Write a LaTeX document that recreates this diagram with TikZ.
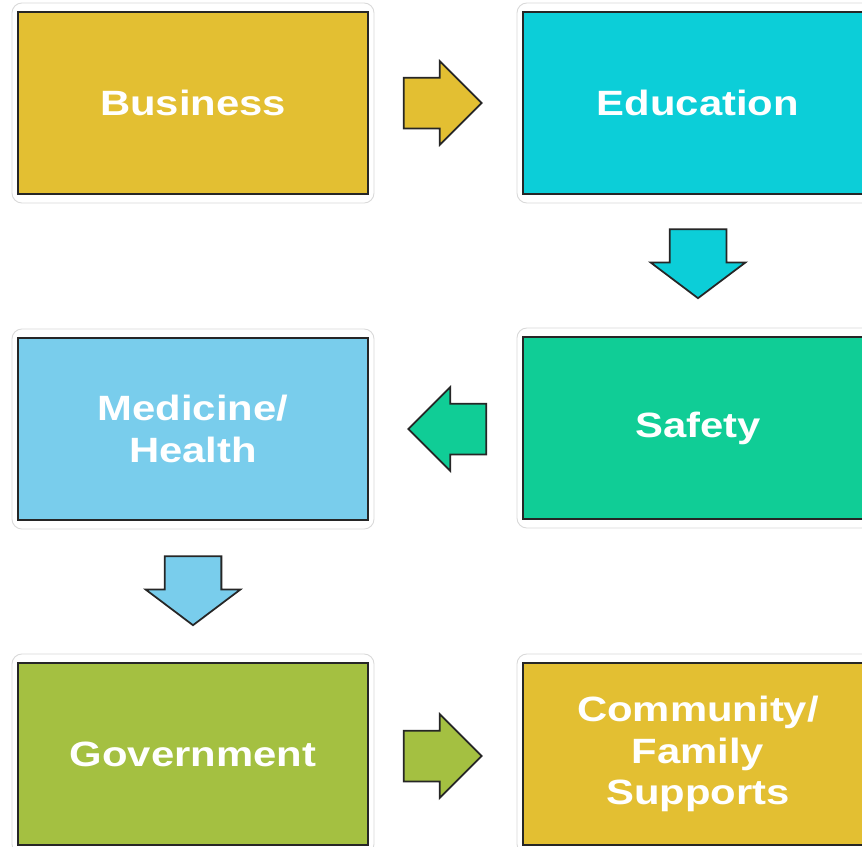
\documentclass[tikz,border=0pt]{standalone}
\usepackage{fontspec}
\newfontfamily\boxfont{Liberation Sans}[FakeStretch=1.19]
\usetikzlibrary{shapes.arrows,positioning}
\definecolor{bizyellow}{HTML}{E3BF32}
\definecolor{educyan}{HTML}{0CCED8}
\definecolor{medblue}{HTML}{79CDEC}
\definecolor{safegreen}{HTML}{10CD96}
\definecolor{govgreen}{HTML}{A4C041}
\tikzstyle{sector} = [draw=black!85, line width=1.2pt, minimum width=7cm, minimum height=3.64cm, text=white, align=center, font=\fontsize{20}{23.5}\boxfont\bfseries]
\tikzstyle{halo} = [draw=black!15, line width=0.5pt, rounded corners=0.2cm]
\tikzstyle{sidearrow} = [single arrow, draw=black!85, line width=1pt, inner xsep=0pt, inner ysep=0.49cm, minimum height=1.56cm, single arrow head extend=0.33cm, single arrow tip angle=90]
\tikzstyle{droparrow} = [single arrow, draw=black!85, line width=1pt, inner xsep=0pt, inner ysep=0.55cm, minimum height=1.38cm, single arrow head extend=0.38cm, single arrow tip angle=106, rotate=-90]

\begin{document}
\begin{tikzpicture}[x=0.02cm, y=-0.02cm]

\clip (0,0) rectangle (862,846);
\fill[white] (0,0) rectangle (862,846);

% boxes
\node[sector, fill=bizyellow] (bus) at (193,103) {Business};
\node[sector, fill=educyan] (edu) at (698,103) {Education};
\node[sector, fill=medblue] (med) at (193,429) {Medicine/\\Health};
\node[sector, fill=safegreen] (saf) at (698,428) {Safety};
\node[sector, fill=govgreen] (gov) at (193,754) {Government};
\node[sector, fill=bizyellow] (com) at (698,754) {Community/\\Family\\Supports};

\foreach \n in {bus,edu,med,saf,gov,com}
	\draw[halo] ([shift={(-5,8)}]\n.south west) rectangle ([shift={(5,-8)}]\n.north east);

% arrows between the boxes
\node[sidearrow, fill=bizyellow] (bus-edu) at (430,103) {};
\node[droparrow, fill=educyan] (edu-saf) at (698,253) {};
\node[sidearrow, fill=safegreen, rotate=180] (saf-med) at (460,429) {};
\node[droparrow, fill=medblue] (med-gov) at (193,580) {};
\node[sidearrow, fill=govgreen] (gov-com) at (430,756) {};

\end{tikzpicture}
\end{document}
